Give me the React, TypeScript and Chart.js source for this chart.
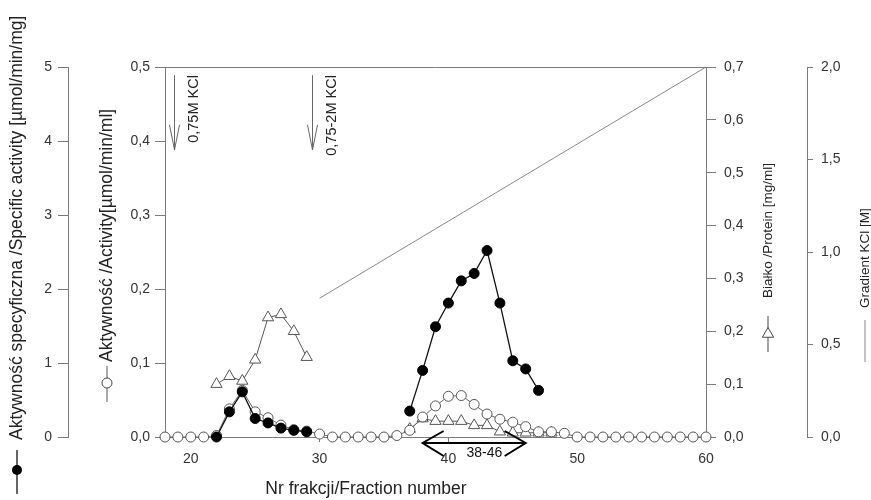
import React, { useEffect, useRef } from 'react';
import { Chart, registerables } from 'chart.js';

Chart.register(...registerables);

const FONT = '"Liberation Sans", Arial, Helvetica, sans-serif';
const AXIS = '#7a7a7a';
const TEXT = '#222222';

// Fraction numbers (x)
const fractions = [
  18, 19, 20, 21, 22, 23, 24, 25, 26, 27, 28, 29, 30, 31, 32, 33, 34, 35, 36,
  37, 38, 39, 40, 41, 42, 43, 44, 45, 46, 47, 48, 49, 50, 51, 52, 53, 54, 55,
  56, 57, 58, 59, 60,
];

// Specific activity [µmol/min/mg] (filled circles)
const specificActivity: (number | null)[] = [
  null, null, null, null, 0.0, 0.34, 0.61, 0.25, 0.19, 0.12, 0.09, 0.07, null, null, null, null, null, null, null,
  0.35, 0.9, 1.49, 1.81, 2.11, 2.21, 2.52, 1.81, 1.03, 0.92, 0.63, null, null, null, null, null, null, null, null,
  null, null, null, null, null,
];

// Activity [µmol/min/ml] (open circles)
const activity: (number | null)[] = [
  0, 0, 0, 0, 0.002, 0.038, 0.063, 0.034, 0.026, 0.016, 0.01, 0.008, 0.004, 0, 0, 0, 0, 0, 0.002,
  0.009, 0.027, 0.042, 0.055, 0.056, 0.044, 0.031, 0.024, 0.02, 0.014, 0.007, 0.007, 0.005, 0, 0, 0, 0, 0, 0,
  0, 0, 0, 0, 0,
];

// Protein [mg/ml] (open triangles)
const protein: (number | null)[] = [
  null, null, null, null, 0.1, 0.115, 0.106, 0.146, 0.226, 0.232, 0.2, 0.151, null, null, null, null, null, null, null,
  0.015, 0.035, 0.03, 0.03, 0.03, 0.022, 0.022, 0.01, 0.008, 0.008, 0.008, 0.008, null, null, null, null, null, null, null,
  null, null, null, null, null,
];

// KCl gradient [M]
const gradientFractions = [30, 60];
const gradientKCl = [0.75, 2.0];

// Tick values
const xTicks = [20, 30, 40, 50, 60];
const specificTicks = [0, 1, 2, 3, 4, 5];
const activityTicks = [0, 0.1, 0.2, 0.3, 0.4, 0.5];
const proteinTicks = [0, 0.1, 0.2, 0.3, 0.4, 0.5, 0.6, 0.7];
const gradientTicks = [0, 0.5, 1.0, 1.5, 2.0];

// Annotations
const kclArrows = [
  { x: 18.7, label: '0,75M KCl' },
  { x: 29.4, label: '0,75-2M KCl' },
];
const poolRange = [38, 46];
const poolLabel = '38-46';

const comma = (v: number) => v.toFixed(1).replace('.', ',');

const pts = (ys: (number | null)[]) => fractions.map((f, i) => ({ x: f, y: ys[i] }));

function vText(ctx: CanvasRenderingContext2D, text: string, x: number, yBottom: number, size: number) {
  ctx.save();
  ctx.translate(x, yBottom);
  ctx.rotate(-Math.PI / 2);
  ctx.font = `${size}px ${FONT}`;
  ctx.fillStyle = TEXT;
  ctx.textAlign = 'left';
  ctx.textBaseline = 'middle';
  ctx.fillText(text, 0, 0);
  ctx.restore();
}

function vLine(ctx: CanvasRenderingContext2D, x: number, y0: number, y1: number, color: string, w = 1) {
  ctx.save();
  ctx.strokeStyle = color;
  ctx.lineWidth = w;
  ctx.beginPath();
  ctx.moveTo(x, y0);
  ctx.lineTo(x, y1);
  ctx.stroke();
  ctx.restore();
}

const decorPlugin = {
  id: 'decor',
  afterDraw(chart: any) {
    const ctx: CanvasRenderingContext2D = chart.ctx;
    const { left, right, top, bottom } = chart.chartArea;
    const xs = chart.scales.x;
    const ya = chart.scales.y2;
    ctx.save();
    // top frame line
    ctx.strokeStyle = AXIS;
    ctx.lineWidth = 1;
    ctx.beginPath();
    ctx.moveTo(left, top + 0.5);
    ctx.lineTo(right, top + 0.5);
    ctx.stroke();

    // axis titles + legend keys
    vText(ctx, 'Aktywność specyficzna /Specific activity [µmol/min/mg]', 17, 440, 17.5);
    vLine(ctx, 17, 450, 494, '#111', 1.3);
    ctx.beginPath();
    ctx.arc(17, 470, 5, 0, Math.PI * 2);
    ctx.fillStyle = '#000';
    ctx.fill();

    vText(ctx, 'Aktywność /Activity[µmol/min/ml]', 107, 362, 17.5);
    vLine(ctx, 107, 366, 402, '#555', 1);
    ctx.beginPath();
    ctx.arc(107, 383, 5, 0, Math.PI * 2);
    ctx.fillStyle = '#fff';
    ctx.fill();
    ctx.strokeStyle = '#444';
    ctx.lineWidth = 1;
    ctx.stroke();

    vText(ctx, 'Białko /Protein [mg/ml]', 768, 298, 13.5);
    vLine(ctx, 768, 316, 352, '#444', 1);
    {
      const cx = 768, cy = 334, r = 6.5;
      ctx.beginPath();
      for (let k = 0; k < 3; k++) {
        const a = (k * 2 * Math.PI) / 3;
        const px = cx + Math.sin(a) * r;
        const py = cy - Math.cos(a) * r;
        if (k === 0) ctx.moveTo(px, py); else ctx.lineTo(px, py);
      }
      ctx.closePath();
      ctx.fillStyle = '#fff';
      ctx.fill();
      ctx.strokeStyle = '#444';
      ctx.stroke();
    }

    vText(ctx, 'Gradient KCl [M]', 865, 308, 13.5);
    vLine(ctx, 865, 320, 362, '#888', 1);

    // x axis title
    ctx.font = `17.5px ${FONT}`;
    ctx.fillStyle = TEXT;
    ctx.textAlign = 'center';
    ctx.textBaseline = 'middle';
    ctx.fillText('Nr frakcji/Fraction number', 366, 489);

    // KCl arrows
    kclArrows.forEach((a) => {
      const x = Math.round(xs.getPixelForValue(a.x)) + 0.5;
      const y0 = ya.getPixelForValue(0.489);
      const y1 = ya.getPixelForValue(0.388);
      ctx.strokeStyle = '#666';
      ctx.lineWidth = 1;
      ctx.beginPath();
      ctx.moveTo(x, y0);
      ctx.lineTo(x, y1);
      ctx.moveTo(x - 5, y1 - 25);
      ctx.lineTo(x, y1);
      ctx.lineTo(x + 5, y1 - 25);
      ctx.stroke();
      ctx.save();
      ctx.translate(x + 19, y0);
      ctx.rotate(-Math.PI / 2);
      ctx.font = `14.5px ${FONT}`;
      ctx.fillStyle = TEXT;
      ctx.textAlign = 'right';
      ctx.textBaseline = 'middle';
      ctx.fillText(a.label, 0, 0);
      ctx.restore();
    });

    // pooled fractions double arrow
    {
      const xa = xs.getPixelForValue(poolRange[0]);
      const xb = xs.getPixelForValue(poolRange[1]);
      const y = bottom + 6;
      ctx.strokeStyle = '#000';
      ctx.lineWidth = 2;
      ctx.beginPath();
      ctx.moveTo(xa, y);
      ctx.lineTo(xb, y);
      ctx.moveTo(xa + 21, y - 12);
      ctx.lineTo(xa, y);
      ctx.lineTo(xa + 21, y + 13);
      ctx.moveTo(xb - 21, y - 12);
      ctx.lineTo(xb, y);
      ctx.lineTo(xb - 21, y + 13);
      ctx.stroke();
      ctx.font = `14px ${FONT}`;
      ctx.fillStyle = '#111';
      ctx.textAlign = 'center';
      ctx.textBaseline = 'middle';
      ctx.fillText(poolLabel, xs.getPixelForValue(42.8), y + 10);
    }
    ctx.restore();
  },
};

function yAxis(position: 'left' | 'right', weight: number, min: number, max: number, ticks: number[], fmt: (v: number) => string, width: number, tickLength: number, padding: number) {
  return {
    type: 'linear' as const,
    position,
    weight,
    min,
    max,
    afterBuildTicks: (s: any) => {
      s.ticks = ticks.map((v) => ({ value: v }));
    },
    afterFit: (s: any) => {
      s.width = width;
    },
    grid: { drawOnChartArea: false, drawTicks: true, tickLength, color: AXIS, lineWidth: 1 },
    border: { display: true, color: AXIS, width: 1 },
    ticks: {
      padding,
      color: '#333',
      font: { size: 14, family: FONT },
      callback: (v: any) => fmt(Number(v)),
    },
  };
}

export default function App() {
  const ref = useRef<HTMLCanvasElement | null>(null);

  useEffect(() => {
    document.body.style.margin = '0';
    const canvas = ref.current;
    if (!canvas) return;
    const chart = new Chart(canvas, {
      type: 'line',
      data: {
        datasets: [
          {
            label: 'Specific activity',
            data: pts(specificActivity),
            yAxisID: 'y1',
            borderColor: '#111',
            borderWidth: 1.3,
            backgroundColor: '#000',
            pointBackgroundColor: '#000',
            pointBorderColor: '#000',
            pointRadius: 5,
            pointBorderWidth: 1,
            spanGaps: false,
            clip: false as any,
          },
          {
            label: 'Activity',
            data: pts(activity),
            yAxisID: 'y2',
            borderColor: '#666',
            borderWidth: 1,
            pointBackgroundColor: '#fff',
            pointBorderColor: '#555',
            pointRadius: 5,
            pointBorderWidth: 1,
            clip: false as any,
          },
          {
            label: 'Protein',
            data: pts(protein),
            yAxisID: 'yp',
            borderColor: '#555',
            borderWidth: 1,
            pointStyle: 'triangle',
            pointBackgroundColor: '#fff',
            pointBorderColor: '#555',
            pointRadius: 6.5,
            pointBorderWidth: 1,
            spanGaps: false,
            clip: false as any,
          },
          {
            label: 'Gradient',
            data: gradientFractions.map((f, i) => ({ x: f, y: gradientKCl[i] })),
            yAxisID: 'yg',
            borderColor: '#888',
            borderWidth: 1,
            pointRadius: 0,
            clip: false as any,
          },
        ],
      },
      options: {
        responsive: false,
        animation: false,
        layout: { padding: { top: 67, left: 0, right: 0, bottom: 0 } },
        plugins: { legend: { display: false }, tooltip: { enabled: false }, title: { display: false } },
        scales: {
          x: {
            type: 'linear',
            position: 'bottom',
            min: 18,
            max: 60,
            afterBuildTicks: (s: any) => {
              s.ticks = xTicks.map((v) => ({ value: v }));
            },
            afterFit: (s: any) => {
              s.height = 63;
            },
            grid: { drawOnChartArea: false, drawTicks: true, tickLength: 5, color: AXIS },
            border: { display: true, color: AXIS, width: 1 },
            ticks: { padding: 9, color: '#333', font: { size: 14, family: FONT }, maxRotation: 0 },
          },
          y2: yAxis('left', 0, 0, 0.5, activityTicks, comma, 97, 10, 5),
          y1: yAxis('left', 1, 0, 5, specificTicks, (v) => String(Math.round(v)), 68, 10, 6),
          yp: yAxis('right', 0, 0, 0.7, proteinTicks, comma, 101, 10, 8),
          yg: yAxis('right', 1, 0, 2, gradientTicks, comma, 64, 6, 8),
        },
      } as any,
      plugins: [decorPlugin],
    });
    return () => chart.destroy();
  }, []);

  return (
    <div style={{ width: 871, height: 500 }}>
      <canvas ref={ref} width={871} height={500} style={{ display: 'block' }} />
    </div>
  );
}
